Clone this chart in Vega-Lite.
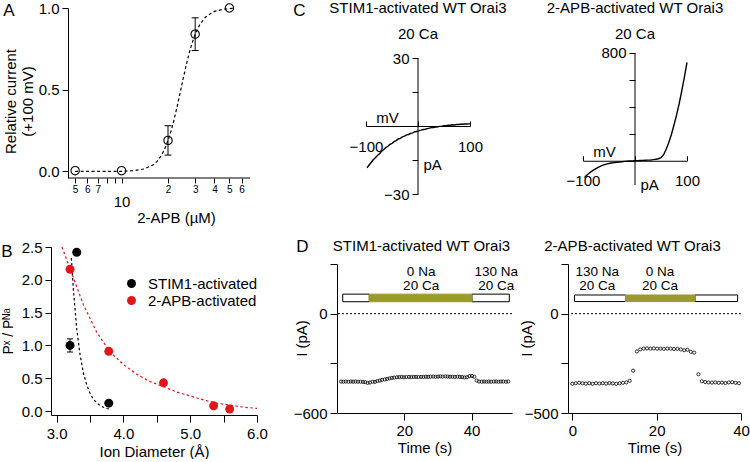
{
  "$schema": "https://vega.github.io/schema/vega-lite/v6.json",
  "background": "white",
  "padding": {"left": 1, "top": 1, "right": 0, "bottom": 0},
  "config": {
    "view": {"stroke": null},
    "font": "Liberation Sans",
    "axis": {"grid": false, "domainColor": "black", "tickColor": "black", "labelColor": "black", "titleColor": "black", "labelFontSize": 15, "titleFontSize": 15, "titleFontWeight": "normal", "labelFlush": false, "labelOverlap": false, "labelBound": false, "tickSize": 5, "labelPadding": 3, "domainWidth": 1, "tickWidth": 1},
    "title": {"fontWeight": "normal", "color": "black", "subtitleColor": "black", "fontSize": 15, "subtitleFontSize": 15},
    "legend": {"labelColor": "black", "labelFontSize": 15}
  },
  "datasets": {
    "aCurve": [{"x":5,"y":0},{"x":8,"y":0.0005},{"x":10,"y":0.001},{"x":12,"y":0.0046},{"x":14,"y":0.015},{"x":16,"y":0.04},{"x":17,"y":0.062},{"x":18,"y":0.094},{"x":19,"y":0.135},{"x":20,"y":0.19},{"x":21,"y":0.252},{"x":22,"y":0.325},{"x":23,"y":0.404},{"x":24,"y":0.484},{"x":25,"y":0.562},{"x":26,"y":0.634},{"x":27,"y":0.698},{"x":28,"y":0.754},{"x":29,"y":0.8},{"x":30,"y":0.84},{"x":32,"y":0.895},{"x":35,"y":0.944},{"x":38,"y":0.968},{"x":40,"y":0.979},{"x":45,"y":0.991},{"x":50,"y":0.996},{"x":53,"y":0.998}],
    "aPts": [{"x":5,"y":0.005},{"x":10,"y":0.005},{"x":20,"y":0.19},{"x":30,"y":0.84},{"x":50,"y":1.0}],
    "aErr": [{"x":20,"y":0.10,"y2":0.28},{"x":30,"y":0.74,"y2":0.94}],
    "aCaps": [{"x":20,"y":0.10},{"x":20,"y":0.28},{"x":30,"y":0.74},{"x":30,"y":0.94}],
    "aXline": [{"x":4.5,"x2":68,"y":-0.04}],
    "bPts": [{"x":3.2,"y":2.16,"s":"2-APB-activated"},{"x":3.78,"y":0.91,"s":"2-APB-activated"},{"x":4.6,"y":0.43,"s":"2-APB-activated"},{"x":5.35,"y":0.08,"s":"2-APB-activated"},{"x":5.59,"y":0.03,"s":"2-APB-activated"},{"x":3.3,"y":2.42,"s":"STIM1-activated"},{"x":3.2,"y":1.0,"s":"STIM1-activated"},{"x":3.78,"y":0.12,"s":"STIM1-activated"}],
    "bErr": [{"x":3.2,"y":0.9,"y2":1.1}],
    "bCaps": [{"x":3.2,"y":0.9},{"x":3.2,"y":1.1}],
    "bFitK": [{"x":3.22,"y":2.33},{"x":3.25,"y":1.85},{"x":3.3,"y":1.26},{"x":3.35,"y":0.86},{"x":3.4,"y":0.58},{"x":3.45,"y":0.4},{"x":3.5,"y":0.27},{"x":3.55,"y":0.18},{"x":3.6,"y":0.125},{"x":3.65,"y":0.085},{"x":3.7,"y":0.058},{"x":3.75,"y":0.039},{"x":3.79,"y":0.029}],
    "bFitR": [{"x":3.08,"y":2.5},{"x":3.2,"y":2.17},{"x":3.4,"y":1.62},{"x":3.6,"y":1.2},{"x":3.8,"y":0.9},{"x":4.0,"y":0.71},{"x":4.2,"y":0.56},{"x":4.4,"y":0.45},{"x":4.6,"y":0.37},{"x":4.8,"y":0.29},{"x":5.0,"y":0.23},{"x":5.2,"y":0.17},{"x":5.4,"y":0.12},{"x":5.6,"y":0.09},{"x":5.8,"y":0.06},{"x":6.0,"y":0.04}],
    "ivL": [{"v":-98,"i":-18.5},{"v":-94,"i":-17.2},{"v":-90,"i":-16.1},{"v":-86,"i":-14.9},{"v":-82,"i":-14.0},{"v":-78,"i":-13.0},{"v":-74,"i":-12.2},{"v":-70,"i":-11.1},{"v":-66,"i":-10.4},{"v":-62,"i":-9.5},{"v":-58,"i":-8.9},{"v":-54,"i":-8.1},{"v":-50,"i":-7.6},{"v":-46,"i":-6.9},{"v":-42,"i":-6.4},{"v":-38,"i":-5.7},{"v":-34,"i":-5.4},{"v":-30,"i":-4.8},{"v":-26,"i":-4.4},{"v":-22,"i":-3.9},{"v":-18,"i":-3.7},{"v":-14,"i":-3.2},{"v":-10,"i":-3.0},{"v":-6,"i":-2.5},{"v":-2,"i":-2.4},{"v":2,"i":-2.0},{"v":6,"i":-1.8},{"v":10,"i":-1.5},{"v":14,"i":-1.4},{"v":18,"i":-1.1},{"v":22,"i":-0.9},{"v":26,"i":-0.7},{"v":30,"i":-0.6},{"v":34,"i":-0.4},{"v":38,"i":-0.3},{"v":42,"i":-0.1},{"v":46,"i":0.0},{"v":50,"i":0.2},{"v":54,"i":0.2},{"v":58,"i":0.4},{"v":62,"i":0.4},{"v":66,"i":0.6},{"v":70,"i":0.5},{"v":74,"i":0.7},{"v":78,"i":0.7},{"v":82,"i":0.8},{"v":86,"i":0.8},{"v":90,"i":0.9},{"v":94,"i":0.9},{"v":98,"i":1.0},{"v":100,"i":1.0}],
    "ivR": [{"v":-97,"i":-125},{"v":-95,"i":-115},{"v":-90,"i":-98},{"v":-85,"i":-83},{"v":-80,"i":-70},{"v":-75,"i":-58},{"v":-70,"i":-47},{"v":-65,"i":-38},{"v":-60,"i":-31},{"v":-55,"i":-25},{"v":-50,"i":-20},{"v":-45,"i":-17},{"v":-40,"i":-14},{"v":-35,"i":-11},{"v":-30,"i":-9},{"v":-25,"i":-7},{"v":-20,"i":-5},{"v":-15,"i":-3.5},{"v":-10,"i":-2},{"v":-5,"i":-1},{"v":0,"i":0},{"v":5,"i":1},{"v":10,"i":2},{"v":15,"i":3},{"v":20,"i":4},{"v":25,"i":5},{"v":30,"i":6},{"v":35,"i":8},{"v":40,"i":11},{"v":45,"i":15},{"v":50,"i":23},{"v":55,"i":45},{"v":60,"i":85},{"v":65,"i":135},{"v":70,"i":195},{"v":75,"i":265},{"v":80,"i":340},{"v":85,"i":425},{"v":90,"i":520},{"v":95,"i":620},{"v":100,"i":730}],
    "cAxL": [{"v":0,"i":-30,"i2":30}],
    "cAxR": [{"v":0,"i":-180,"i2":800}],
    "zero": [{"v":0}],
    "dlBars": [{"t0":1.7,"t1":9.6,"v0":72,"v1":118,"sol":"Na"},{"t0":40.1,"t1":51.2,"v0":72,"v1":118,"sol":"Na"},{"t0":9.6,"t1":40.1,"v0":72,"v1":118,"sol":"noNa"}],
    "drBars": [{"t0":0.5,"t1":12.6,"v0":61,"v1":94,"sol":"Na"},{"t0":29.1,"t1":39.2,"v0":61,"v1":94,"sol":"Na"},{"t0":12.6,"t1":29.1,"v0":61,"v1":94,"sol":"noNa"}],
    "dlTxt": [{"t":25,"v":252,"label":"0 Na"},{"t":25,"v":167,"label":"20 Ca"},{"t":47.3,"v":252,"label":"130 Na"},{"t":47.3,"v":167,"label":"20 Ca"}],
    "drTxt": [{"t":5.9,"v":211,"label":"130 Na"},{"t":5.9,"v":139,"label":"20 Ca"},{"t":20.8,"v":211,"label":"0 Na"},{"t":20.8,"v":139,"label":"20 Ca"}],
    "dlPts": [{"t":1.2,"v":-410},{"t":1.9,"v":-411},{"t":2.6,"v":-410},{"t":3.4,"v":-411},{"t":4.1,"v":-410},{"t":4.8,"v":-411},{"t":5.5,"v":-410},{"t":6.2,"v":-411},{"t":7.0,"v":-411},{"t":7.7,"v":-412},{"t":8.4,"v":-414},{"t":9.1,"v":-418},{"t":9.8,"v":-416},{"t":10.6,"v":-411},{"t":11.3,"v":-412},{"t":12.0,"v":-407},{"t":12.7,"v":-404},{"t":13.4,"v":-400},{"t":14.2,"v":-397},{"t":14.9,"v":-394},{"t":15.6,"v":-391},{"t":16.3,"v":-388},{"t":17.0,"v":-386},{"t":17.8,"v":-384},{"t":18.5,"v":-383},{"t":19.2,"v":-382},{"t":19.9,"v":-384},{"t":20.6,"v":-383},{"t":21.4,"v":-382},{"t":22.1,"v":-383},{"t":22.8,"v":-382},{"t":23.5,"v":-382},{"t":24.2,"v":-383},{"t":25.0,"v":-382},{"t":25.7,"v":-382},{"t":26.4,"v":-381},{"t":27.1,"v":-382},{"t":27.8,"v":-381},{"t":28.6,"v":-380},{"t":29.3,"v":-381},{"t":30.0,"v":-380},{"t":30.7,"v":-379},{"t":31.4,"v":-380},{"t":32.2,"v":-379},{"t":32.9,"v":-380},{"t":33.6,"v":-381},{"t":34.3,"v":-381},{"t":35.0,"v":-382},{"t":35.8,"v":-381},{"t":36.5,"v":-382},{"t":37.2,"v":-383},{"t":37.9,"v":-385},{"t":38.6,"v":-384},{"t":39.4,"v":-377},{"t":40.1,"v":-376},{"t":40.8,"v":-381},{"t":41.5,"v":-404},{"t":42.2,"v":-410},{"t":43.0,"v":-411},{"t":43.7,"v":-410},{"t":44.4,"v":-411},{"t":45.1,"v":-410},{"t":45.8,"v":-411},{"t":46.6,"v":-410},{"t":47.3,"v":-410},{"t":48.0,"v":-411},{"t":48.7,"v":-410},{"t":49.4,"v":-410},{"t":50.2,"v":-411},{"t":50.9,"v":-410}],
    "drPts": [{"t":0.0,"v":-353},{"t":0.8,"v":-350},{"t":1.6,"v":-348},{"t":2.4,"v":-350},{"t":3.2,"v":-352},{"t":4.0,"v":-350},{"t":4.8,"v":-353},{"t":5.6,"v":-350},{"t":6.4,"v":-352},{"t":7.2,"v":-350},{"t":8.0,"v":-352},{"t":8.8,"v":-349},{"t":9.6,"v":-351},{"t":10.4,"v":-353},{"t":11.2,"v":-350},{"t":12.0,"v":-348},{"t":12.8,"v":-346},{"t":13.6,"v":-338},{"t":14.4,"v":-287},{"t":15.3,"v":-190},{"t":16.1,"v":-180},{"t":16.9,"v":-176},{"t":17.7,"v":-175},{"t":18.5,"v":-176},{"t":19.3,"v":-175},{"t":20.1,"v":-176},{"t":20.9,"v":-176},{"t":21.7,"v":-177},{"t":22.5,"v":-176},{"t":23.3,"v":-176},{"t":24.1,"v":-178},{"t":24.9,"v":-177},{"t":25.7,"v":-180},{"t":26.5,"v":-184},{"t":27.3,"v":-182},{"t":28.1,"v":-192},{"t":28.9,"v":-196},{"t":29.9,"v":-305},{"t":30.7,"v":-340},{"t":31.5,"v":-344},{"t":32.3,"v":-346},{"t":33.1,"v":-347},{"t":33.9,"v":-346},{"t":34.7,"v":-348},{"t":35.5,"v":-347},{"t":36.3,"v":-349},{"t":37.1,"v":-346},{"t":37.9,"v":-345},{"t":38.7,"v":-348},{"t":39.5,"v":-350}]
  },
  "columns": 2,
  "align": "none",
  "spacing": {"row": 12, "column": 25},
  "resolve": {"scale": {"color": "independent"}, "legend": {"color": "independent"}},
  "concat": [
    {
      "width": 199, "height": 170,
      "title": {"text": "A", "anchor": "start", "frame": "bounds", "fontSize": 17, "offset": 0, "dx": 0, "dy": 19},
      "encoding": {
        "x": {"field": "x", "type": "quantitative", "scale": {"type": "log", "domain": [3.488, 68], "nice": false},
          "axis": {"domain": false, "values": [5,6,7,8,9,10,20,30,40,50,60],
            "labelExpr": "datum.value == 10 ? '10' : (datum.value == 8 || datum.value == 9) ? '' : datum.value < 10 ? '' + datum.value : '' + round(datum.value / 10)",
            "labelFontSize": {"condition": {"test": "datum.value == 10", "value": 15}, "value": 10},
            "labelPadding": {"condition": {"test": "datum.value == 10", "value": 11}, "value": 1},
            "tickSize": 5, "title": "2-APB (µM)", "titleX": 125, "titlePadding": 1}},
        "y": {"field": "y", "type": "quantitative", "scale": {"domain": [-0.04, 1], "nice": false, "zero": false},
          "axis": {"offset": -17, "values": [0, 0.5, 1], "format": ".1f", "tickSize": 6, "labelPadding": 3, "title": ["Relative current", "(+100 mV)"], "titleLineHeight": 17, "titlePadding": 3, "titleY": 93}}
      },
      "layer": [
        {"data": {"name": "aXline"}, "mark": {"type": "rule", "color": "black", "strokeWidth": 1}, "encoding": {"x2": {"field": "x2"}}},
        {"data": {"name": "aCurve"}, "mark": {"type": "line", "color": "black", "strokeWidth": 1.2, "strokeDash": [3, 2.5]}, "encoding": {}},
        {"data": {"name": "aErr"}, "mark": {"type": "rule", "color": "black", "strokeWidth": 1}, "encoding": {"y2": {"field": "y2"}}},
        {"data": {"name": "aCaps"}, "mark": {"type": "point", "shape": "M-1,0L1,0", "filled": false, "size": 49, "color": "black", "strokeWidth": 1, "opacity": 1}},
        {"data": {"name": "aPts"}, "mark": {"type": "point", "shape": "circle", "filled": false, "size": 70, "color": "black", "strokeWidth": 1.1, "opacity": 1}}
      ]
    },
    {
      "spacing": 39,
      "title": {"text": "\u2002C", "anchor": "start", "frame": "bounds", "fontSize": 17, "offset": 0, "dx": -36, "dy": 19},
      "hconcat": [
        {
          "width": 104, "height": 186,
          "title": {"text": "STIM1-activated WT Orai3", "subtitle": "20 Ca", "anchor": "middle", "frame": "group", "offset": 0, "subtitlePadding": 11, "dy": 34},
          "layer": [
            {"data": {"name": "cAxL"}, "mark": {"type": "rule", "color": "black", "strokeWidth": 1},
              "encoding": {"x": {"field": "v", "type": "quantitative"}, "y": {"field": "i", "type": "quantitative"}, "y2": {"field": "i2"}}},
            {"data": {"name": "ivL"}, "mark": {"type": "line", "color": "black", "strokeWidth": 1.4},
              "encoding": {
                "x": {"field": "v", "type": "quantitative", "scale": {"domain": [-100, 100], "nice": false},
                  "axis": {"orient": "bottom", "offset": -68, "values": [-100, -50, 0, 50, 100], "labelExpr": "abs(datum.value) == 100 ? datum.label : ''", "tickSize": -5, "labelPadding": 18, "title": "mV", "titleX": 21, "titleY": -4, "titleAlign": "center", "titleBaseline": "alphabetic"}},
                "y": {"field": "i", "type": "quantitative", "scale": {"domain": [-30, 52.17], "nice": false},
                  "axis": {"domain": false, "orient": "left", "offset": -52, "values": [-30, -15, 0, 15, 30], "labelExpr": "abs(datum.value) == 30 ? datum.label : ''", "tickSize": 6, "labelPadding": 3, "title": "pA", "titleAngle": 0, "titleX": 5, "titleY": 156, "titleAlign": "left", "titleBaseline": "middle"}}
              }}
          ]
        },
        {
          "width": 104, "height": 177,
          "title": {"text": "2-APB-activated WT Orai3", "subtitle": "20 Ca", "anchor": "middle", "frame": "group", "offset": 0, "subtitlePadding": 11, "dy": 34},
          "layer": [
            {"data": {"name": "cAxR"}, "mark": {"type": "rule", "color": "black", "strokeWidth": 1},
              "encoding": {"x": {"field": "v", "type": "quantitative"}, "y": {"field": "i", "type": "quantitative"}, "y2": {"field": "i2"}}},
            {"data": {"name": "ivR"}, "mark": {"type": "line", "color": "black", "strokeWidth": 1.4},
              "encoding": {
                "x": {"field": "v", "type": "quantitative", "scale": {"domain": [-100, 100], "nice": false},
                  "axis": {"orient": "bottom", "offset": -24.25, "values": [-100, -50, 0, 50, 100], "labelExpr": "abs(datum.value) == 100 ? datum.label : ''", "tickSize": -5, "labelPadding": 18, "title": "mV", "titleX": 21, "titleY": -4, "titleAlign": "center", "titleBaseline": "alphabetic"}},
                "y": {"field": "i", "type": "quantitative", "scale": {"domain": [-180, 1134], "nice": false},
                  "axis": {"domain": false, "orient": "left", "offset": -52, "values": [0, 200, 400, 600, 800], "labelExpr": "datum.value == 800 ? datum.label : ''", "tickSize": 6, "labelPadding": 3, "title": "pA", "titleAngle": 0, "titleX": 5, "titleY": 176, "titleAlign": "left", "titleBaseline": "middle"}}
              }}
          ]
        }
      ]
    },
    {
      "width": 206, "height": 168,
      "title": {"text": ["", "B"], "lineHeight": 5, "anchor": "start", "frame": "bounds", "fontSize": 17, "offset": 0, "dx": 0, "dy": 20.5},
      "encoding": {
        "x": {"field": "x", "type": "quantitative", "scale": {"domain": [2.915, 6.0], "nice": false, "zero": false},
          "axis": {"values": [3, 3.5, 4, 4.5, 5, 5.5, 6], "labelExpr": "datum.value % 1 == 0 ? format(datum.value, '.1f') : ''", "tickSize": 7, "labelPadding": 4, "title": "Ion Diameter (Å)", "titlePadding": 3}},
        "y": {"field": "y", "type": "quantitative", "scale": {"domain": [-0.06, 2.5], "nice": false, "zero": false},
          "axis": {"values": [0, 0.5, 1, 1.5, 2, 2.5], "format": ".1f", "tickSize": 6, "labelPadding": 3, "title": "Pˣ / Pᴺᵃ", "titleFontSize": 14, "titlePadding": 6}}
      },
      "layer": [
        {"data": {"name": "bFitK"}, "mark": {"type": "line", "color": "black", "strokeWidth": 1.2, "strokeDash": [2.5, 2.5]}, "encoding": {}},
        {"data": {"name": "bFitR"}, "mark": {"type": "line", "color": "#e0161b", "strokeWidth": 1.2, "strokeDash": [2.5, 2.5]}, "encoding": {}},
        {"data": {"name": "bErr"}, "mark": {"type": "rule", "color": "black", "strokeWidth": 1}, "encoding": {"y2": {"field": "y2"}}},
        {"data": {"name": "bCaps"}, "mark": {"type": "point", "shape": "M-1,0L1,0", "filled": false, "size": 36, "color": "black", "strokeWidth": 1, "opacity": 1}},
        {"data": {"name": "bPts"}, "mark": {"type": "point", "shape": "circle", "filled": true, "size": 80, "opacity": 1},
          "encoding": {"color": {"field": "s", "type": "nominal", "scale": {"domain": ["STIM1-activated", "2-APB-activated"], "range": ["#000000", "#e0161b"]},
            "legend": {"title": null, "orient": "none", "legendX": 73, "legendY": 29, "symbolSize": 80, "symbolType": "circle", "symbolStrokeWidth": 0, "labelFontSize": 15, "labelOffset": 9, "rowPadding": 1, "padding": 0}}}}
      ]
    },
    {
      "spacing": 1,
      "title": {"text": "D", "anchor": "start", "frame": "bounds", "fontSize": 17, "offset": 0, "dx": 3, "dy": 16.5},
      "hconcat": [
        {
          "width": 175, "height": 149,
          "title": {"text": "STIM1-activated WT Orai3", "anchor": "middle", "frame": "group", "offset": 3, "dx": -3},
          "layer": [
            {"data": {"name": "zero"}, "mark": {"type": "rule", "color": "black", "strokeDash": [2, 2], "strokeWidth": 1},
              "encoding": {"y": {"field": "v", "type": "quantitative"}}},
            {"data": {"name": "dlBars"}, "mark": {"type": "rect", "strokeWidth": 1},
              "encoding": {"x": {"field": "t0", "type": "quantitative"}, "x2": {"field": "t1"}, "y": {"field": "v0", "type": "quantitative"}, "y2": {"field": "v1"},
                "fill": {"field": "sol", "type": "nominal", "scale": {"domain": ["Na", "noNa"], "range": ["#ffffff", "#9b9a2c"]}, "legend": null},
                "stroke": {"field": "sol", "type": "nominal", "scale": {"domain": ["Na", "noNa"], "range": ["#000000", "#9b9a2c"]}, "legend": null}}},
            {"data": {"name": "dlTxt"}, "mark": {"type": "text", "fontSize": 13.5, "align": "center", "baseline": "middle", "color": "black"},
              "encoding": {"x": {"field": "t", "type": "quantitative"}, "y": {"field": "v", "type": "quantitative"}, "text": {"field": "label"}}},
            {"data": {"name": "dlPts"}, "mark": {"type": "point", "shape": "circle", "filled": false, "size": 10, "strokeWidth": 0.8, "color": "black", "opacity": 1},
              "encoding": {
                "x": {"field": "t", "type": "quantitative", "scale": {"domain": [0, 52], "nice": false, "zero": false},
                  "axis": {"values": [20, 40], "tickSize": 7, "labelPadding": 3, "title": "Time (s)", "titlePadding": 2}},
                "y": {"field": "v", "type": "quantitative", "scale": {"domain": [-600, 300], "nice": false, "zero": false},
                  "axis": {"values": [300, 0, -300, -600], "labelExpr": "datum.value == 0 || datum.value == -600 ? datum.label : ''", "tickSize": 7, "labelPadding": 3, "title": "I (pA)", "titleX": -36, "titleY": 74, "titleAlign": "center", "titleBaseline": "middle"}}
              }}
          ]
        },
        {
          "width": 173, "height": 149,
          "title": {"text": "2-APB-activated WT Orai3", "anchor": "middle", "frame": "group", "offset": 3, "dx": -22},
          "layer": [
            {"data": {"name": "zero"}, "mark": {"type": "rule", "color": "black", "strokeDash": [2, 2], "strokeWidth": 1},
              "encoding": {"y": {"field": "v", "type": "quantitative"}}},
            {"data": {"name": "drBars"}, "mark": {"type": "rect", "strokeWidth": 1},
              "encoding": {"x": {"field": "t0", "type": "quantitative"}, "x2": {"field": "t1"}, "y": {"field": "v0", "type": "quantitative"}, "y2": {"field": "v1"},
                "fill": {"field": "sol", "type": "nominal", "scale": {"domain": ["Na", "noNa"], "range": ["#ffffff", "#9b9a2c"]}, "legend": null},
                "stroke": {"field": "sol", "type": "nominal", "scale": {"domain": ["Na", "noNa"], "range": ["#000000", "#9b9a2c"]}, "legend": null}}},
            {"data": {"name": "drTxt"}, "mark": {"type": "text", "fontSize": 13.5, "align": "center", "baseline": "middle", "color": "black"},
              "encoding": {"x": {"field": "t", "type": "quantitative"}, "y": {"field": "v", "type": "quantitative"}, "text": {"field": "label"}}},
            {"data": {"name": "drPts"}, "mark": {"type": "point", "shape": "circle", "filled": false, "size": 10, "strokeWidth": 0.8, "color": "black", "opacity": 1},
              "encoding": {
                "x": {"field": "t", "type": "quantitative", "scale": {"domain": [-1.04, 40], "nice": false, "zero": false},
                  "axis": {"values": [0, 20, 40], "tickSize": 7, "labelPadding": 3, "title": "Time (s)", "titlePadding": 2}},
                "y": {"field": "v", "type": "quantitative", "scale": {"domain": [-500, 250], "nice": false, "zero": false},
                  "axis": {"values": [250, 0, -250, -500], "labelExpr": "datum.value == 0 || datum.value == -500 ? datum.label : ''", "tickSize": 7, "labelPadding": 3, "title": "I (pA)", "titleX": -42, "titleY": 74, "titleAlign": "center", "titleBaseline": "middle"}}
              }}
          ]
        }
      ]
    }
  ]
}
